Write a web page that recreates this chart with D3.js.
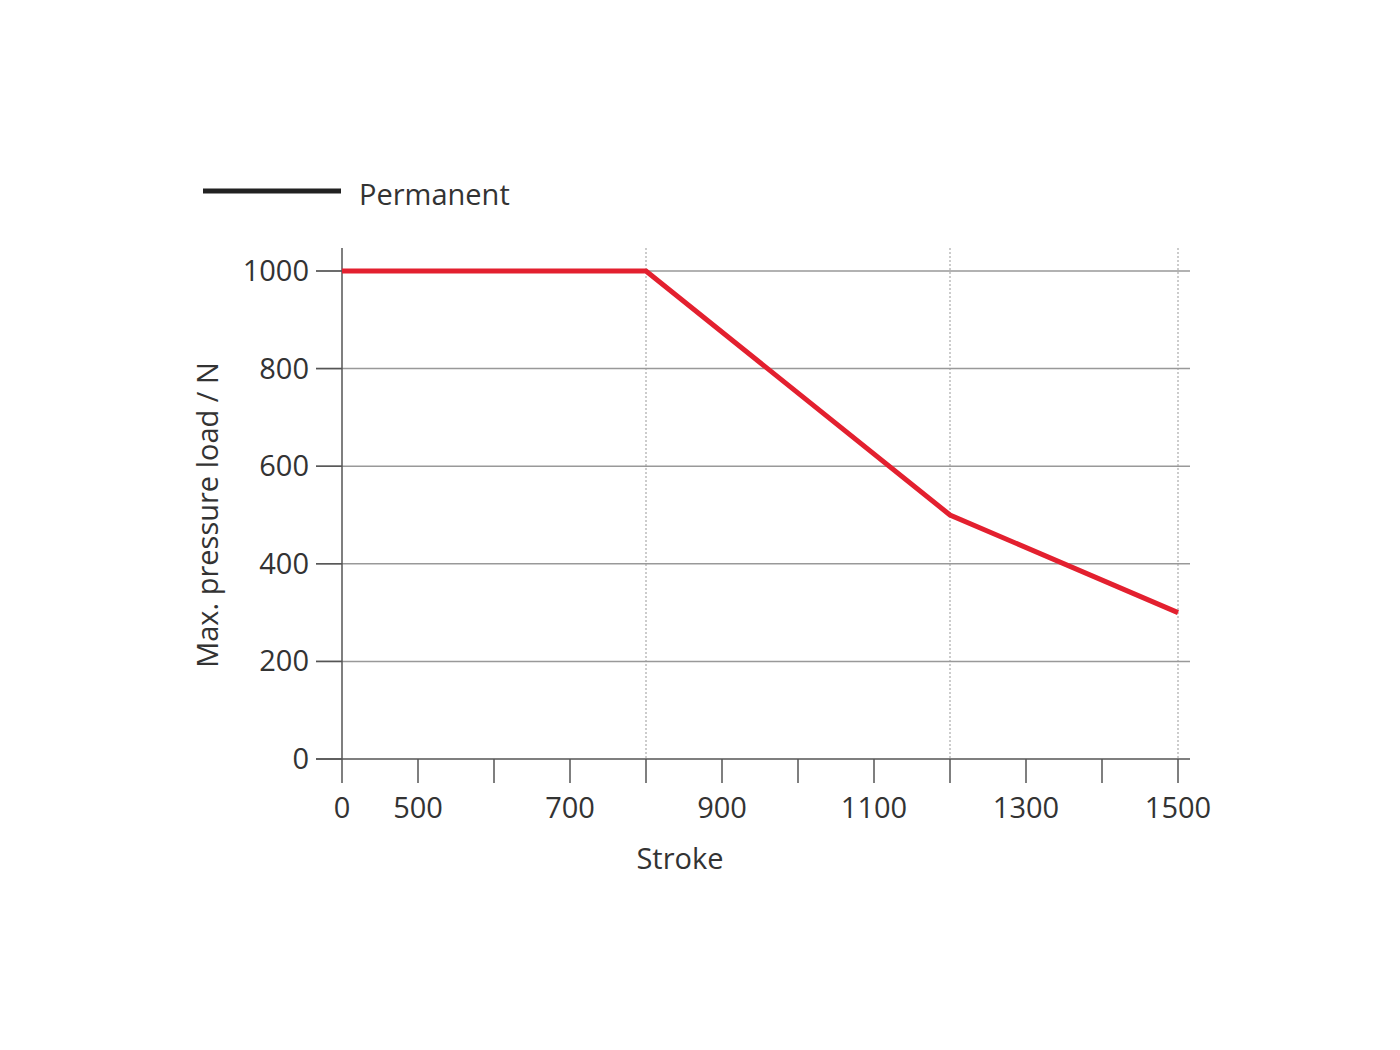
<!DOCTYPE html>
<html><head><meta charset="utf-8">
<script src="https://cdn.jsdelivr.net/npm/d3@7"></script>
<style>body{margin:0;background:#fff}text{font-family:"Open Sans",sans-serif;fill:#333}</style>
</head><body><svg id="c" width="1400" height="1050"></svg>
<script>
const xTicks=[0,500,600,700,800,900,1000,1100,1200,1300,1400,1500];
const xLabels=["0","500","","700","","900","","1100","","1300","","1500"];
const yTicks=[0,200,400,600,800,1000];
const strokeVals=[0,800,1200,1500];
const loadVals=[1000,1000,500,300];
const dashedAt=[800,1200,1500];
const svg=d3.select("#c");
const x=d3.scalePoint().domain(xTicks).range([342,1178]);
const y=d3.scaleLinear().domain([0,1000]).range([759,271]);
const g=svg.append("g");
yTicks.forEach(t=>{ if(t>0) g.append("line").attr("x1",316).attr("x2",1190).attr("y1",y(t)).attr("y2",y(t)).attr("stroke","#999").attr("stroke-width",1.5);
 g.append("line").attr("x1",316).attr("x2",342).attr("y1",y(t)).attr("y2",y(t)).attr("stroke","#555").attr("stroke-width",1.5);
 g.append("text").attr("x",309).attr("y",y(t)+10).attr("text-anchor","end").attr("font-size",29).text(t);});
dashedAt.forEach(v=>g.append("line").attr("x1",x(v)).attr("x2",x(v)).attr("y1",248).attr("y2",759).attr("stroke","#999").attr("stroke-dasharray","2,2").attr("stroke-width",1));
g.append("line").attr("x1",342).attr("x2",342).attr("y1",248).attr("y2",759).attr("stroke","#555").attr("stroke-width",1.5);
g.append("line").attr("x1",316).attr("x2",1190).attr("y1",759).attr("y2",759).attr("stroke","#555").attr("stroke-width",1.5);
xTicks.forEach((t,i)=>{g.append("line").attr("x1",x(t)).attr("x2",x(t)).attr("y1",759).attr("y2",783).attr("stroke","#555").attr("stroke-width",1.5);
 if(xLabels[i]) g.append("text").attr("x",x(t)).attr("y",818).attr("text-anchor","middle").attr("font-size",29).text(xLabels[i]);});
g.append("path").datum(strokeVals.map((s,i)=>[s,loadVals[i]])).attr("d",d3.line().x(d=>x(d[0])).y(d=>y(d[1]))).attr("fill","none").attr("stroke","#e3202f").attr("stroke-width",5);
g.append("text").attr("x",680).attr("y",869).attr("text-anchor","middle").attr("font-size",29).text("Stroke");
g.append("text").attr("transform","translate(218,515) rotate(-90)").attr("text-anchor","middle").attr("font-size",29).text("Max. pressure load / N");
g.append("line").attr("x1",203).attr("x2",341).attr("y1",191).attr("y2",191).attr("stroke","#222").attr("stroke-width",5);
g.append("text").attr("x",359).attr("y",205).attr("font-size",29).text("Permanent");
</script></body></html>
